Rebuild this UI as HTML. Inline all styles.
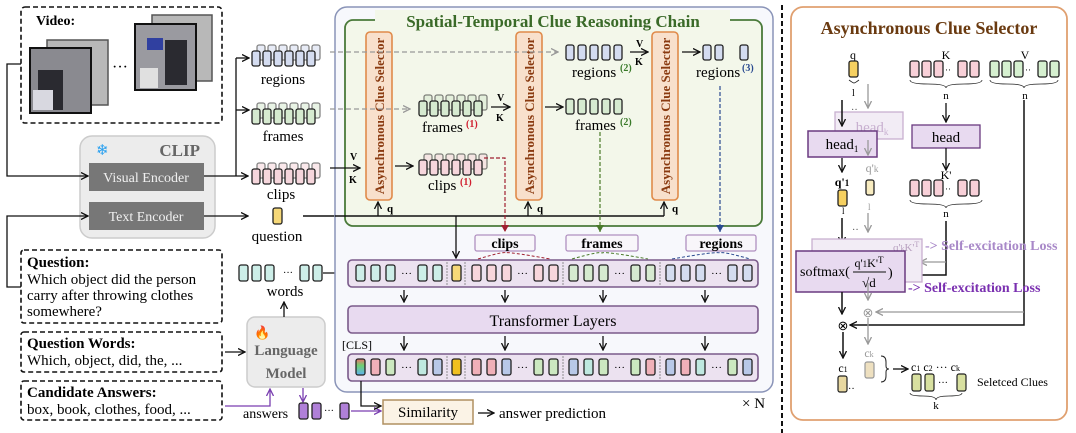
<!DOCTYPE html>
<html><head><meta charset="utf-8"><style>
html,body{margin:0;padding:0;background:#fff;width:1076px;height:433px;overflow:hidden}
svg{display:block;font-family:"Liberation Serif",serif}
</style></head><body>
<svg width="1076" height="433" viewBox="0 0 1076 433" xmlns="http://www.w3.org/2000/svg">
<defs>
<marker id="a" markerWidth="8" markerHeight="8" refX="7" refY="4" orient="auto" markerUnits="userSpaceOnUse"><path d="M0,0.5 L7,4 L0,7.5" fill="none" stroke="#111" stroke-width="1.3"/></marker>
<marker id="ag" markerWidth="8" markerHeight="8" refX="7" refY="4" orient="auto" markerUnits="userSpaceOnUse"><path d="M0,0.5 L7,4 L0,7.5" fill="none" stroke="#999" stroke-width="1.3"/></marker>
<marker id="ap" markerWidth="8" markerHeight="8" refX="7" refY="4" orient="auto" markerUnits="userSpaceOnUse"><path d="M0,0.5 L7,4 L0,7.5" fill="none" stroke="#7a3fb0" stroke-width="1.3"/></marker>
<marker id="ar" markerWidth="8" markerHeight="8" refX="7" refY="4" orient="auto" markerUnits="userSpaceOnUse"><path d="M0,0 L7,4 L0,8z" fill="#a02030"/></marker>
<marker id="agr" markerWidth="8" markerHeight="8" refX="7" refY="4" orient="auto" markerUnits="userSpaceOnUse"><path d="M0,0 L7,4 L0,8z" fill="#4a7a2a"/></marker>
<marker id="ab" markerWidth="8" markerHeight="8" refX="7" refY="4" orient="auto" markerUnits="userSpaceOnUse"><path d="M0,0 L7,4 L0,8z" fill="#2a4a90"/></marker>
<g id="t"><rect width="9" height="16" rx="2" fill="currentColor" stroke="#222" stroke-width="1.3"/></g>
<g id="ts"><rect width="8" height="15" rx="2" fill="currentColor" stroke="#222" stroke-width="1.3"/></g>
<g id="stk">
<g opacity="0.55"><use href="#ts" x="5" y="-6"/><use href="#ts" x="16" y="-6"/><use href="#ts" x="27" y="-6"/><use href="#ts" x="38" y="-6"/><use href="#ts" x="49" y="-6"/><use href="#ts" x="60" y="-6"/></g>
<use href="#ts" x="0"/><use href="#ts" x="11"/><use href="#ts" x="22"/><use href="#ts" x="33"/><use href="#ts" x="44"/><use href="#ts" x="55"/>
</g>
<g id="row5"><use href="#ts" x="0"/><use href="#ts" x="12"/><use href="#ts" x="24"/><use href="#ts" x="36"/><use href="#ts" x="48"/></g>
</defs>

<!-- LEFT PANEL -->
<rect x="21" y="7" width="201" height="116" rx="4" fill="#fff" stroke="#111" stroke-width="1.6" stroke-dasharray="5,3"/>
<text x="36" y="25" font-size="14" font-weight="bold">Video:</text>
<rect x="47" y="40" width="61" height="65" fill="#b8b8b8" stroke="#555" stroke-width="1.5"/>
<rect x="30" y="48" width="61" height="65" fill="#8a8a90" stroke="#111" stroke-width="2"/>
<rect x="38" y="70" width="25" height="40" fill="#2a2a30"/><rect x="33" y="90" width="20" height="20" fill="#d8d8e0"/>
<rect x="152" y="15" width="60" height="66" fill="#b8b8b8" stroke="#555" stroke-width="1.5"/>
<rect x="135" y="24" width="61" height="66" fill="#9a9aa0" stroke="#111" stroke-width="2"/>
<rect x="165" y="40" width="22" height="45" fill="#2a2a30"/><rect x="147" y="38" width="16" height="12" fill="#3040a0"/><rect x="140" y="68" width="18" height="20" fill="#e0e0e0"/>
<text x="112" y="72" font-size="16">···</text>
<rect x="80" y="136" width="135" height="102" rx="12" fill="#ececec" stroke="#ccc" stroke-width="1.5"/>
<text x="96" y="155" font-size="15" fill="#29a0f0">❄</text>
<text x="200" y="156" font-size="17" font-weight="bold" fill="#666" text-anchor="end">CLIP</text>
<rect x="89" y="163" width="115" height="28" fill="#777"/>
<text x="146" y="182" font-size="14" fill="#f0f0f0" text-anchor="middle">Visual Encoder</text>
<rect x="89" y="202" width="115" height="28" fill="#777"/>
<text x="146" y="221" font-size="14" fill="#f0f0f0" text-anchor="middle">Text Encoder</text>
<path d="M21,64 H7 V176 H88" fill="none" stroke="#111" stroke-width="1.3" marker-end="url(#a)"/>
<path d="M21,287 H7 V216 H88" fill="none" stroke="#111" stroke-width="1.3" marker-end="url(#a)"/>
<path d="M204,176 H248" fill="none" stroke="#111" stroke-width="1.3" marker-end="url(#a)"/>
<path d="M236,176 V58" fill="none" stroke="#111" stroke-width="1.3"/>
<path d="M236,58 H249" stroke="#111" stroke-width="1.3" marker-end="url(#a)"/>
<path d="M236,110 H249" stroke="#111" stroke-width="1.3" marker-end="url(#a)"/>
<path d="M204,216 H248" stroke="#111" stroke-width="1.3" marker-end="url(#a)"/>
<use href="#stk" x="252" y="51" color="#d4dcf0"/>
<text x="283" y="84" font-size="15" text-anchor="middle">regions</text>
<use href="#stk" x="252" y="109" color="#d6ead0"/>
<text x="283" y="141" font-size="15" text-anchor="middle">frames</text>
<use href="#stk" x="252" y="169" color="#f6d6dc"/>
<text x="281" y="199" font-size="15" text-anchor="middle">clips</text>
<use href="#t" x="273" y="208" color="#f6d878"/>
<text x="277" y="241" font-size="15" text-anchor="middle">question</text>
<path d="M303,216 H335" stroke="#111" stroke-width="1.5"/>

<rect x="21" y="250" width="201" height="73" rx="3" fill="#fff" stroke="#111" stroke-width="1.6" stroke-dasharray="5,3"/>
<text x="27" y="267" font-size="15" font-weight="bold">Question:</text>
<text x="27" y="284" font-size="15">Which object did the person</text>
<text x="27" y="300" font-size="15">carry after throwing clothes</text>
<text x="27" y="316" font-size="15">somewhere?</text>
<rect x="21" y="332" width="201" height="40" rx="3" fill="#fff" stroke="#111" stroke-width="1.6" stroke-dasharray="5,3"/>
<text x="27" y="348" font-size="15" font-weight="bold">Question Words:</text>
<text x="27" y="365" font-size="15">Which, object, did, the, ...</text>
<rect x="21" y="381" width="201" height="39" rx="3" fill="#fff" stroke="#111" stroke-width="1.6" stroke-dasharray="5,3"/>
<text x="27" y="397" font-size="15" font-weight="bold">Candidate Answers:</text>
<text x="27" y="414" font-size="15">box, book, clothes, food, ...</text>
<path d="M225,352 H245" stroke="#111" stroke-width="1.3" marker-end="url(#a)"/>
<rect x="247" y="317" width="78" height="70" rx="8" fill="#ececec" stroke="#ccc" stroke-width="1.5"/>
<text x="254" y="337" font-size="13" fill="#f08020">🔥</text>
<text x="286" y="355" font-size="15" font-weight="bold" fill="#666" text-anchor="middle">Language</text>
<text x="286" y="378" font-size="15" font-weight="bold" fill="#666" text-anchor="middle">Model</text>
<path d="M225,406 H270 V389" fill="none" stroke="#7a3fb0" stroke-width="1.3" marker-end="url(#ap)"/>
<path d="M303,388 V402" stroke="#7a3fb0" stroke-width="1.3" marker-end="url(#ap)"/>
<text x="243" y="418" font-size="14">answers</text>
<use href="#t" x="299" y="403" color="#b080d8"/><use href="#t" x="312" y="403" color="#b080d8"/>
<text x="324" y="414" font-size="10">···</text>
<use href="#t" x="340" y="403" color="#b080d8"/>
<path d="M351,411 H381" stroke="#7a3fb0" stroke-width="1.3" marker-end="url(#ap)"/>
<path d="M284,317 V302" stroke="#111" stroke-width="1.3" marker-end="url(#a)"/>
<g color="#cdeee8"><use href="#t" x="239" y="265"/><use href="#t" x="252" y="265"/><use href="#t" x="265" y="265"/><use href="#t" x="300" y="265"/><use href="#t" x="313" y="265"/></g>
<text x="283" y="276" font-size="10">···</text>
<text x="285" y="296" font-size="15" text-anchor="middle">words</text>
<path d="M323,273 H346" stroke="#111" stroke-width="1.3" marker-end="url(#a)"/>

<!-- MIDDLE PANEL -->
<rect x="335" y="7" width="438" height="385" rx="12" fill="#f7f8fc" stroke="#8a94b8" stroke-width="1.5"/>
<rect x="345" y="20" width="417" height="206" rx="8" fill="#f3f7ea" stroke="#4a7a3a" stroke-width="1.8"/>
<rect x="375" y="10" width="355" height="22" fill="#f3f7ea"/>
<text x="553" y="27" font-size="17" font-weight="bold" fill="#3a6a28" text-anchor="middle">Spatial-Temporal Clue Reasoning Chain</text>
<g fill="#f8e0cc" stroke="#e08a4a" stroke-width="1.6">
<rect x="366" y="32" width="26" height="168" rx="4"/><rect x="516" y="32" width="26" height="168" rx="4"/><rect x="652" y="32" width="26" height="168" rx="4"/></g>
<g font-size="13" font-weight="bold" fill="#8a3a10" text-anchor="middle">
<text transform="translate(384,116) rotate(-90)">Asynchronous Clue Selector</text>
<text transform="translate(534,116) rotate(-90)">Asynchronous Clue Selector</text>
<text transform="translate(670,116) rotate(-90)">Asynchronous Clue Selector</text></g>
<!-- regions row -->
<path d="M330,52 H558" stroke="#999" stroke-width="1.2" stroke-dasharray="5,3" marker-end="url(#ag)"/>
<use href="#row5" x="566" y="45" color="#d4dcf0"/>
<text x="572" y="77" font-size="15">regions</text><text x="620" y="71" font-size="10" font-weight="bold" fill="#3a7a2a">(2)</text>
<path d="M630,52 H648" stroke="#111" stroke-width="1.3" marker-end="url(#a)"/>
<text x="636" y="47" font-size="10" font-weight="bold">V</text><text x="635" y="65" font-size="10" font-weight="bold">K</text>
<path d="M682,52 H700" stroke="#111" stroke-width="1.3" marker-end="url(#a)"/>
<use href="#ts" x="703" y="45" color="#d4dcf0"/><use href="#ts" x="715" y="45" color="#d4dcf0"/><use href="#ts" x="740" y="45" color="#d4dcf0"/>
<text x="696" y="77" font-size="15">regions</text><text x="742" y="71" font-size="10" font-weight="bold" fill="#2a4a90">(3)</text>
<!-- frames row -->
<path d="M330,109 H410" stroke="#999" stroke-width="1.2" stroke-dasharray="5,3" marker-end="url(#ag)"/>
<use href="#stk" x="419" y="101" color="#d6ead0"/>
<text x="422" y="132" font-size="15">frames</text><text x="466" y="127" font-size="10" font-weight="bold" fill="#d02030">(1)</text>
<path d="M491,107 H510" stroke="#111" stroke-width="1.3" marker-end="url(#a)"/>
<text x="497" y="101" font-size="10" font-weight="bold">V</text><text x="496" y="121" font-size="10" font-weight="bold">K</text>
<path d="M545,107 H563" stroke="#111" stroke-width="1.3" marker-end="url(#a)"/>
<use href="#row5" x="566" y="99" color="#d6ead0"/>
<text x="575" y="130" font-size="15">frames</text><text x="620" y="125" font-size="10" font-weight="bold" fill="#3a7a2a">(2)</text>
<!-- clips row -->
<path d="M330,168 H360" stroke="#111" stroke-width="1.3" marker-end="url(#a)"/>
<text x="350" y="160" font-size="10" font-weight="bold">V</text><text x="349" y="183" font-size="10" font-weight="bold">K</text>
<path d="M395,166 H413" stroke="#111" stroke-width="1.3" marker-end="url(#a)"/>
<use href="#stk" x="419" y="160" color="#f6d6dc"/>
<text x="428" y="190" font-size="15">clips</text><text x="460" y="185" font-size="10" font-weight="bold" fill="#d02030">(1)</text>
<!-- q line -->
<path d="M335,216 H664" stroke="#111" stroke-width="1.5" fill="none"/>
<path d="M378,216 V202" stroke="#111" stroke-width="1.3" marker-end="url(#a)"/>
<path d="M528,216 V202" stroke="#111" stroke-width="1.3" marker-end="url(#a)"/>
<path d="M664,216 V202" stroke="#111" stroke-width="1.3" marker-end="url(#a)"/>
<text x="387" y="212" font-size="11" font-weight="bold">q</text><text x="537" y="212" font-size="11" font-weight="bold">q</text><text x="672" y="212" font-size="11" font-weight="bold">q</text>
<path d="M456,216 V258" stroke="#111" stroke-width="1.3" marker-end="url(#a)"/>
<!-- colored dashed -->
<path d="M484,158 H505 V232" fill="none" stroke="#a02030" stroke-width="1.2" stroke-dasharray="4,2" marker-end="url(#ar)"/>
<path d="M600,132 V232" fill="none" stroke="#4a7a2a" stroke-width="1.2" stroke-dasharray="4,2" marker-end="url(#agr)"/>
<path d="M720,86 V232" fill="none" stroke="#2a4a90" stroke-width="1.2" stroke-dasharray="4,2" marker-end="url(#ab)"/>
<g fill="#f8f6fa" stroke="#b090c0" stroke-width="1.3">
<rect x="475" y="235" width="60" height="16" rx="2"/><rect x="566" y="235" width="72" height="16" rx="2"/><rect x="686" y="235" width="70" height="16" rx="2"/></g>
<g font-size="14" font-weight="bold" text-anchor="middle"><text x="505" y="248">clips</text><text x="602" y="248">frames</text><text x="721" y="248">regions</text></g>
<path d="M478,259 Q505,251 505,253 Q505,251 550,259" fill="none" stroke="#a02030" stroke-width="1" stroke-dasharray="3,2"/>
<path d="M572,259 Q600,251 602,253 Q604,251 648,259" fill="none" stroke="#4a7a2a" stroke-width="1" stroke-dasharray="3,2"/>
<path d="M672,259 Q718,251 720,253 Q722,251 750,259" fill="none" stroke="#2a4a90" stroke-width="1" stroke-dasharray="3,2"/>
<!-- token row 1 -->
<rect x="348" y="260" width="410" height="27" rx="4" fill="#ece2f0" stroke="#7a5a8a" stroke-width="1.6"/>
<g color="#cdeee8"><use href="#t" x="356" y="265"/><use href="#t" x="371" y="265"/><use href="#t" x="386" y="265"/><use href="#t" x="418" y="265"/><use href="#t" x="433" y="265"/></g>
<use href="#t" x="452" y="265" color="#f6d878"/>
<g color="#f8d6dc"><use href="#t" x="472" y="265"/><use href="#t" x="487" y="265"/><use href="#t" x="502" y="265"/><use href="#t" x="534" y="265"/><use href="#t" x="549" y="265"/></g>
<g color="#d6ead0"><use href="#t" x="569" y="265"/><use href="#t" x="584" y="265"/><use href="#t" x="599" y="265"/><use href="#t" x="631" y="265"/><use href="#t" x="646" y="265"/></g>
<g color="#d4dcf0"><use href="#t" x="666" y="265"/><use href="#t" x="681" y="265"/><use href="#t" x="696" y="265"/><use href="#t" x="728" y="265"/><use href="#t" x="743" y="265"/></g>
<g font-size="11"><text x="401" y="277">···</text><text x="517" y="277">···</text><text x="614" y="277">···</text><text x="711" y="277">···</text></g>
<path d="M447,262 V285 M465,262 V285 M563,262 V285 M660,262 V285" stroke="#777" stroke-width="0.8" stroke-dasharray="2,1"/>
<path d="M404,290 V302" stroke="#111" stroke-width="1.3" marker-end="url(#a)"/>
<path d="M505,290 V302" stroke="#111" stroke-width="1.3" marker-end="url(#a)"/>
<path d="M603,290 V302" stroke="#111" stroke-width="1.3" marker-end="url(#a)"/>
<path d="M705,290 V302" stroke="#111" stroke-width="1.3" marker-end="url(#a)"/>
<rect x="348" y="306" width="410" height="27" rx="4" fill="#e8daf0" stroke="#7a5a8a" stroke-width="1.6"/>
<text x="553" y="326" font-size="16" text-anchor="middle">Transformer Layers</text>
<text x="342" y="349" font-size="12">[CLS]</text>
<path d="M404,336 V350" stroke="#111" stroke-width="1.3" marker-end="url(#a)"/>
<path d="M505,336 V350" stroke="#111" stroke-width="1.3" marker-end="url(#a)"/>
<path d="M603,336 V350" stroke="#111" stroke-width="1.3" marker-end="url(#a)"/>
<path d="M705,336 V350" stroke="#111" stroke-width="1.3" marker-end="url(#a)"/>
<rect x="348" y="354" width="410" height="27" rx="4" fill="#ece2f0" stroke="#7a5a8a" stroke-width="1.6"/>
<linearGradient id="rb" x1="0" y1="0" x2="0" y2="1"><stop offset="0" stop-color="#f07070"/><stop offset=".4" stop-color="#70d070"/><stop offset="1" stop-color="#60b0f0"/></linearGradient>
<rect x="356" y="359" width="9" height="16" rx="2" fill="url(#rb)" stroke="#222" stroke-width="1.3"/>
<use href="#t" x="371" y="359" color="#f0b0b8"/><use href="#t" x="386" y="359" color="#cce8c0"/><use href="#t" x="418" y="359" color="#bfe8e0"/><use href="#t" x="433" y="359" color="#b8c8e8"/>
<use href="#t" x="452" y="359" color="#f0c020"/>
<use href="#t" x="472" y="359" color="#f0b0b8"/><use href="#t" x="487" y="359" color="#f0b0b8"/><use href="#t" x="502" y="359" color="#b8c8e8"/><use href="#t" x="534" y="359" color="#cce8c0"/><use href="#t" x="549" y="359" color="#cce8c0"/>
<use href="#t" x="569" y="359" color="#b8c8e8"/><use href="#t" x="584" y="359" color="#bfe8e0"/><use href="#t" x="599" y="359" color="#cce8c0"/><use href="#t" x="631" y="359" color="#cce8c0"/><use href="#t" x="646" y="359" color="#f0b0b8"/>
<use href="#t" x="666" y="359" color="#b8c8e8"/><use href="#t" x="681" y="359" color="#f0b0b8"/><use href="#t" x="696" y="359" color="#bfe8e0"/><use href="#t" x="728" y="359" color="#cce8c0"/><use href="#t" x="743" y="359" color="#b8c8e8"/>
<g font-size="11"><text x="401" y="371">···</text><text x="517" y="371">···</text><text x="614" y="371">···</text><text x="711" y="371">···</text></g>
<path d="M447,356 V379 M465,356 V379 M563,356 V379 M660,356 V379" stroke="#777" stroke-width="0.8" stroke-dasharray="2,1"/>
<path d="M361,381 V406 H381" fill="none" stroke="#111" stroke-width="1.3" marker-end="url(#a)"/>
<rect x="383" y="400" width="90" height="24" fill="#fbf3e6" stroke="#b09060" stroke-width="1.5"/>
<text x="428" y="417" font-size="15" text-anchor="middle">Similarity</text>
<path d="M478,413 H494" stroke="#111" stroke-width="1.3" marker-end="url(#a)"/>
<text x="499" y="418" font-size="15">answer prediction</text>
<text x="742" y="408" font-size="15">× N</text>

<path d="M782,5 V433" stroke="#111" stroke-width="2" stroke-dasharray="5,3"/>

<!-- RIGHT PANEL -->
<rect x="791" y="7" width="276" height="413" rx="12" fill="#fff" stroke="#e0a070" stroke-width="1.8"/>
<text x="929" y="34" font-size="18" font-weight="bold" fill="#6a3a10" text-anchor="middle">Asynchronous Clue Selector</text>
<text x="853" y="59" font-size="12" text-anchor="middle">q</text>
<use href="#t" x="849" y="61" color="#f6d060"/>
<path d="M849,80 q4,3 5,3 q1,0 5,-3" fill="none" stroke="#222" stroke-width="0.8"/><text x="852" y="96" font-size="10">l</text>
<text x="946" y="59" font-size="12" text-anchor="middle">K</text>
<g color="#f8d0d8"><use href="#t" x="910" y="61"/><use href="#t" x="922" y="61"/><use href="#t" x="934" y="61"/><use href="#t" x="958" y="61"/><use href="#t" x="970" y="61"/></g>
<text x="945" y="73" font-size="9">··</text>
<text x="1025" y="59" font-size="12" text-anchor="middle">V</text>
<g color="#d6f0d0"><use href="#t" x="990" y="61"/><use href="#t" x="1002" y="61"/><use href="#t" x="1014" y="61"/><use href="#t" x="1038" y="61"/><use href="#t" x="1050" y="61"/></g>
<text x="1025" y="73" font-size="9">··</text>
<path d="M910,80 q0,4 18,4 q18,0 18,4 q0,-4 18,-4 q18,0 18,-4 M990,80 q0,4 17,4 q17,0 17,4 q0,-4 17,-4 q17,0 17,-4" fill="none" stroke="#222" stroke-width="0.8"/>
<text x="946" y="99" font-size="11" text-anchor="middle">n</text><text x="1025" y="99" font-size="11" text-anchor="middle">n</text>
<path d="M946,103 V122" stroke="#111" stroke-width="1.3" marker-end="url(#a)"/>
<rect x="912" y="125" width="68" height="23" fill="#e8daf0" stroke="#6a3a80" stroke-width="1.3"/>
<text x="946" y="142" font-size="15" text-anchor="middle">head</text>
<path d="M946,148 V170" stroke="#111" stroke-width="1.3" marker-end="url(#a)"/>
<text x="946" y="179" font-size="12" text-anchor="middle">K'</text>
<g color="#f8d0d8"><use href="#t" x="910" y="180"/><use href="#t" x="922" y="180"/><use href="#t" x="934" y="180"/><use href="#t" x="958" y="180"/><use href="#t" x="970" y="180"/></g>
<text x="945" y="192" font-size="9">··</text>
<path d="M910,200 q0,4 18,4 q18,0 18,4 q0,-4 18,-4 q18,0 18,-4" fill="none" stroke="#222" stroke-width="0.8"/>
<text x="946" y="217" font-size="11" text-anchor="middle">n</text>
<path d="M946,221 V275 H908" fill="none" stroke="#111" stroke-width="1.5" marker-end="url(#a)"/>
<path d="M946,262 H920" fill="none" stroke="#999" stroke-width="1.3" marker-end="url(#ag)"/>
<path d="M1024,100 V325 H850" fill="none" stroke="#111" stroke-width="1.5" marker-end="url(#a)"/>
<path d="M1024,312 H876" fill="none" stroke="#999" stroke-width="1.3" marker-end="url(#ag)"/>
<!-- faded head k -->
<path d="M868,84 V108" stroke="#999" stroke-width="1.3" marker-end="url(#ag)"/>
<text x="851" y="113" font-size="10" fill="#555">··</text>
<rect x="835" y="112" width="68" height="27" fill="#f2ecf5" stroke="#c8b0d0" stroke-width="1.3"/>
<text x="872" y="132" font-size="15" fill="#c8b0d0" text-anchor="middle">head<tspan font-size="9" dy="3">k</tspan></text>
<path d="M842,100 V126" stroke="#111" stroke-width="1.5" marker-end="url(#a)"/>
<rect x="808" y="131" width="69" height="26" fill="#e8daf0" stroke="#6a3a80" stroke-width="1.5"/>
<text x="842" y="149" font-size="15" text-anchor="middle">head<tspan font-size="9" dy="3">1</tspan></text>
<path d="M842,158 V172" stroke="#111" stroke-width="1.3" marker-end="url(#a)"/>
<text x="842" y="186" font-size="12" font-weight="bold" text-anchor="middle">q'<tspan font-size="9">1</tspan></text>
<use href="#t" x="838" y="190" color="#f6d060"/>
<text x="842" y="214" font-size="9">l</text>
<path d="M868,140 V155" stroke="#999" stroke-width="1.3" marker-end="url(#ag)"/>
<text x="872" y="172" font-size="12" fill="#999" text-anchor="middle">q'<tspan font-size="9">k</tspan></text>
<use href="#ts" x="866" y="180" color="#f8ecc0"/>
<text x="868" y="210" font-size="9" fill="#999">l</text>
<path d="M868,213 V232" stroke="#999" stroke-width="1.3" marker-end="url(#ag)"/>
<text x="852" y="233" font-size="10" fill="#555">··</text>
<path d="M842,218 V244" stroke="#111" stroke-width="1.5" marker-end="url(#a)"/>
<rect x="812" y="239" width="110" height="43" fill="#f2ecf5" stroke="#c8b0d0" stroke-width="1.3"/>
<text x="893" y="251" font-size="11" fill="#b8a0c0">q'<tspan font-size="8">k</tspan>K'<tspan font-size="8" dy="-4">T</tspan></text>
<rect x="796" y="251" width="109" height="41" fill="#e8daf0" stroke="#6a3a80" stroke-width="1.5"/>
<text x="800" y="276" font-size="14">softmax(</text>
<text x="869" y="267" font-size="12" text-anchor="middle">q'<tspan font-size="9">1</tspan>K'<tspan font-size="9" dy="-4">T</tspan></text>
<path d="M853,272 H886" stroke="#111" stroke-width="1"/>
<text x="869" y="287" font-size="13" text-anchor="middle">√d</text>
<text x="888" y="277" font-size="14">)</text>
<text x="925" y="250" font-size="14" font-weight="bold" fill="#a888c8">-&gt; Self-excitation Loss</text>
<text x="908" y="292" font-size="14" font-weight="bold" fill="#7a30b0">-&gt; Self-excitation Loss</text>
<path d="M842,292 V314" stroke="#111" stroke-width="1.5" marker-end="url(#a)"/>
<path d="M868,283 V300" stroke="#999" stroke-width="1.3" marker-end="url(#ag)"/>
<text x="868" y="317" font-size="13" fill="#999" text-anchor="middle">⊗</text>
<text x="843" y="330" font-size="13" text-anchor="middle">⊗</text>
<path d="M843,332 V358" stroke="#111" stroke-width="1.5" marker-end="url(#a)"/>
<path d="M868,318 V344" stroke="#999" stroke-width="1.3" marker-end="url(#ag)"/>
<text x="843" y="372" font-size="12" text-anchor="middle">c<tspan font-size="8">1</tspan></text>
<rect x="838" y="376" width="9" height="16" rx="2" fill="#e8d8a0" stroke="#222" stroke-width="1.2"/>
<text x="848" y="392" font-size="10">··</text>
<text x="869" y="357" font-size="12" fill="#999" text-anchor="middle">c<tspan font-size="8">k</tspan></text>
<rect x="865" y="362" width="9" height="16" rx="2" fill="#eee0c0" stroke="#999" stroke-width="1.2"/>
<path d="M881,356 q5,0 5,6 v4 q0,3 3,3 q-3,0 -3,3 v4 q0,6 -5,6" fill="none" stroke="#222" stroke-width="1"/>
<path d="M893,369 H908" stroke="#111" stroke-width="1.3" marker-end="url(#a)"/>
<text x="911" y="371" font-size="12">c<tspan font-size="8">1</tspan> c<tspan font-size="8">2</tspan> ··· c<tspan font-size="8">k</tspan></text>
<rect x="912" y="374" width="9" height="17" rx="2" fill="#d8e0a0" stroke="#222" stroke-width="1.2"/>
<rect x="925" y="374" width="9" height="17" rx="2" fill="#d8e0a0" stroke="#222" stroke-width="1.2"/>
<text x="938" y="386" font-size="10">···</text>
<rect x="957" y="374" width="9" height="17" rx="2" fill="#d8e0a0" stroke="#222" stroke-width="1.2"/>
<path d="M910,393 q0,3 13,3 q13,0 13,4 q0,-4 13,-4 q13,0 13,-3" fill="none" stroke="#222" stroke-width="0.8"/>
<text x="936" y="409" font-size="11" text-anchor="middle">k</text>
<text x="977" y="386" font-size="12">Seletced Clues</text>
</svg>
</body></html>
